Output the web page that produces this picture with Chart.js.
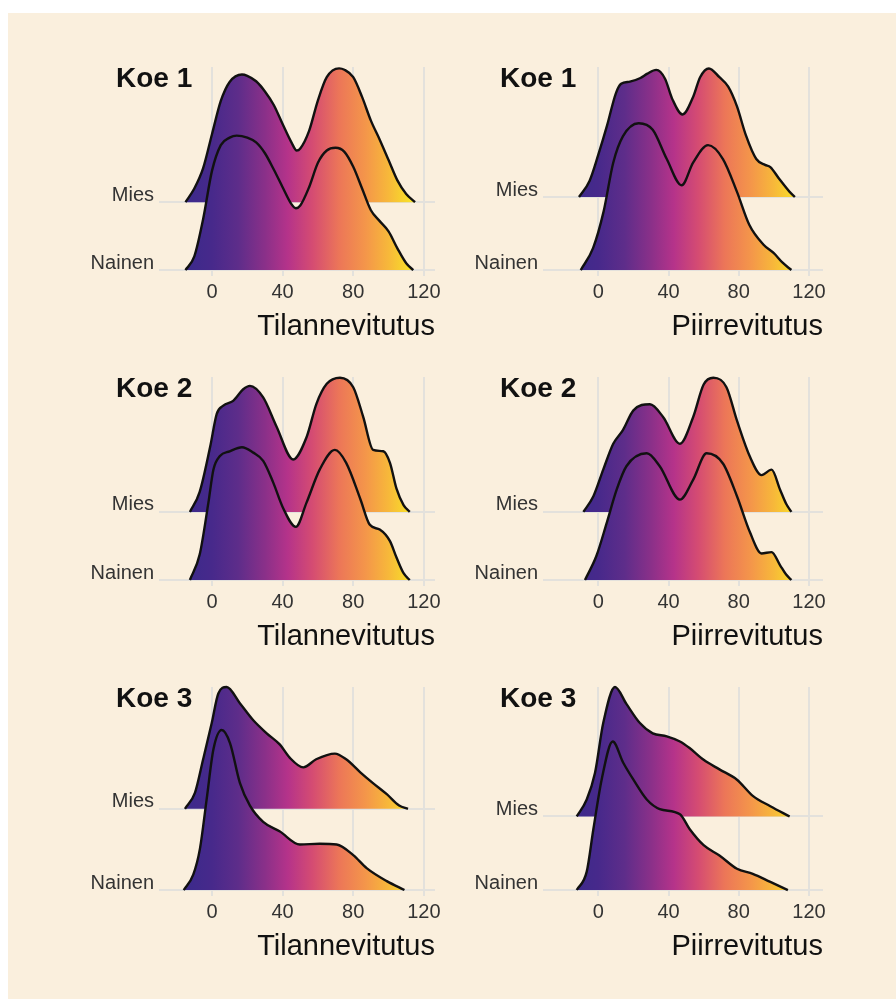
<!DOCTYPE html>
<html>
<head>
<meta charset="utf-8">
<script src="https://cdn.jsdelivr.net/npm/chart.js@4"></script>
<style>
html,body{margin:0;padding:0;background:#ffffff;width:896px;height:999px;overflow:hidden;}
#bg{position:absolute;left:8px;top:13px;width:888px;height:986px;background:#FAEFDD;}
canvas{position:absolute;}
</style>
</head>
<body>
<div id="bg"></div>
<script>
// ---------- data ----------
const panelTitles = ['Koe 1', 'Koe 1', 'Koe 2', 'Koe 2', 'Koe 3', 'Koe 3'];
const axisTitles = ['Tilannevitutus', 'Piirrevitutus'];
const groupLabels = ['Nainen', 'Mies'];
const xTicks = [0, 40, 80, 120];

// density curves: [x, height] (height in units of row spacing)
const koe1TilMies = [[-15,0],[-10,0.2],[-5,0.5],[0,1.0],[5,1.49],[10,1.77],[17,1.88],[20,1.86],[25,1.78],[30,1.63],[35,1.43],[40,1.15],[45,0.88],[48,0.76],[50,0.79],[55,1.05],[60,1.5],[65,1.84],[72,1.97],[75,1.95],[80,1.84],[85,1.55],[90,1.2],[95,0.92],[100,0.62],[105,0.32],[110,0.12],[115,0]];
const koe1TilNainen = [[-15,0],[-10,0.2],[-5,0.75],[0,1.46],[5,1.84],[10,1.95],[14,1.98],[20,1.95],[25,1.88],[30,1.72],[35,1.48],[40,1.22],[45,0.97],[47.5,0.91],[50,0.95],[55,1.22],[60,1.58],[65,1.76],[70,1.80],[75,1.74],[80,1.52],[85,1.2],[90,0.88],[95,0.72],[100,0.57],[105,0.32],[110,0.1],[114,0]];
const koe1PiiMies = [[-11,0],[-5,0.22],[0,0.58],[5,0.98],[10,1.42],[13,1.55],[18,1.58],[24,1.63],[28,1.69],[33,1.74],[38,1.62],[42,1.35],[48,1.13],[54,1.37],[58,1.64],[63,1.76],[69,1.64],[74,1.51],[79,1.24],[84,0.85],[90,0.52],[95,0.44],[98,0.41],[103,0.25],[109,0.07],[112,0]];
const koe1PiiNainen = [[-10,0],[-3,0.3],[3,0.8],[8.5,1.47],[14,1.83],[23,2.01],[31,1.92],[39,1.52],[47.5,1.16],[54,1.47],[62.5,1.71],[71,1.52],[79,1.07],[86,0.62],[94,0.35],[100,0.23],[105,0.1],[110,0]];
const koe2TilMies = [[-12.5,0],[-7,0.29],[-1,0.96],[2.7,1.44],[6.4,1.56],[12,1.63],[17.7,1.80],[21.5,1.85],[29,1.68],[36.6,1.25],[46,0.77],[53.6,1.1],[59.2,1.59],[65,1.88],[72.5,1.97],[80,1.83],[85.6,1.40],[91.3,0.91],[97,0.89],[100.8,0.72],[104.5,0.34],[108.5,0.1],[112,0]];
const koe2TilNainen = [[-12.5,0],[-7,0.37],[-2,1.14],[0.8,1.62],[4.5,1.82],[10,1.89],[17,1.95],[23.4,1.87],[29,1.75],[34.7,1.43],[40.4,1.05],[47.5,0.78],[53.6,1.14],[61,1.62],[69.6,1.91],[76,1.72],[84,1.19],[89.4,0.81],[95,0.74],[100.8,0.57],[104.5,0.33],[108.5,0.1],[112,0]];
const koe2PiiMies = [[-8.5,0],[-2.8,0.23],[2.8,0.62],[8.5,1.0],[14,1.2],[20,1.49],[29.4,1.58],[37,1.39],[46.5,1.0],[54,1.39],[60,1.87],[65.5,1.97],[73,1.83],[79,1.34],[86.4,0.81],[93,0.54],[98.7,0.62],[103.5,0.33],[107,0.12],[110,0]];
const koe2PiiNainen = [[-7.6,0],[-1,0.36],[4.8,0.84],[10.5,1.33],[16,1.67],[27.6,1.86],[35,1.67],[46.5,1.18],[54,1.47],[61.7,1.86],[71,1.71],[79,1.23],[86.4,0.7],[93,0.39],[98.7,0.41],[103.5,0.22],[107,0.08],[110,0]];
const koe3TilMies = [[-15.3,0],[-9.6,0.2],[-5,0.61],[-0.2,1.05],[3.6,1.42],[8.3,1.5],[15.8,1.30],[23.4,1.09],[31,0.93],[38.5,0.79],[44,0.63],[51.7,0.51],[59,0.61],[69.6,0.68],[76,0.61],[84,0.45],[91,0.32],[99,0.18],[106,0.04],[111,0]];
const koe3TilNainen = [[-16,0],[-10.6,0.19],[-6.8,0.51],[-3,1.12],[0.8,1.73],[5.5,1.97],[10.2,1.81],[15.8,1.32],[21.5,1.04],[29,0.84],[38.5,0.72],[49.8,0.56],[61,0.57],[70.6,0.56],[80,0.43],[87.6,0.27],[99,0.11],[109,0]];
const koe3PiiMies = [[-12.3,0],[-6.6,0.23],[-1.9,0.59],[2.8,1.27],[9.5,1.76],[16,1.53],[23.7,1.27],[31,1.13],[39,1.09],[46.5,1.02],[52,0.93],[60,0.77],[69,0.64],[79,0.5],[88,0.28],[98,0.14],[109,0]];
const koe3PiiNainen = [[-12.3,0],[-6.6,0.25],[-2.8,0.83],[1.9,1.5],[8.2,2.02],[14.2,1.73],[20,1.5],[27.6,1.23],[35,1.10],[46.5,1.03],[52,0.83],[60,0.61],[69,0.47],[79,0.29],[88,0.22],[98,0.11],[108,0]];

const miesCurves = [koe1TilMies, koe1PiiMies, koe2TilMies, koe2PiiMies, koe3TilMies, koe3PiiMies];
const nainenCurves = [koe1TilNainen, koe1PiiNainen, koe2TilNainen, koe2PiiNainen, koe3TilNainen, koe3PiiNainen];
const yMaxes = [2.99, 2.78, 2.98, 2.98, 2.50, 2.76];
const xRanges = [[-28.3, 126.3], [-29.8, 128]];

// fill colour scale (by x value)
const gradStops = [[-15,'#3B2A8B'],[0,'#47298B'],[15,'#5E2D8A'],[30,'#8A3089'],[43,'#B5338A'],[57,'#D54C72'],[72,'#EC7658'],[87,'#F4964A'],[100,'#F7B83A'],[108,'#F8D22E'],[115,'#F8E82A']];

// ---------- drawing ----------
const FONT = '"Liberation Sans", Arial, Helvetica, sans-serif';
const gridColor = '#E3E1DC';

function fillFor(context) {
  const chart = context.chart;
  if (!chart.chartArea) return 'rgba(0,0,0,0)';
  const xs = chart.scales.x;
  const v0 = gradStops[0][0], v1 = gradStops[gradStops.length - 1][0];
  const g = chart.ctx.createLinearGradient(xs.getPixelForValue(v0), 0, xs.getPixelForValue(v1), 0);
  gradStops.forEach(([v, c]) => g.addColorStop((v - v0) / (v1 - v0), c));
  return g;
}

const panelLabel = {
  id: 'panelLabel',
  afterDraw(chart, args, opts) {
    const { ctx, chartArea } = chart;
    ctx.save();
    ctx.font = 'bold 28px ' + FONT;
    ctx.fillStyle = '#111';
    ctx.textAlign = 'left';
    ctx.textBaseline = 'alphabetic';
    ctx.fillText(opts.text, chartArea.left - 46, chartArea.top + 20);
    ctx.restore();
  }
};

Chart.register(panelLabel);

for (let i = 0; i < 6; i++) {
  const col = i % 2, row = Math.floor(i / 2);
  const cv = document.createElement('canvas');
  cv.width = 370; cv.height = 300;
  cv.style.left = (col === 0 ? 80 : 464) + 'px';
  cv.style.top = (50 + row * 310) + 'px';
  document.body.appendChild(cv);

  const yMax = yMaxes[i];
  const yMin = -yMax * 2 / 207;
  const curveStyle = {
    backgroundColor: fillFor,
    borderColor: '#111',
    borderWidth: 2.4,
    pointRadius: 0,
    cubicInterpolationMode: 'monotone',
    clip: 10
  };

  new Chart(cv, {
    type: 'line',
    data: {
      datasets: [
        Object.assign({ label: groupLabels[0], data: nainenCurves[i].map(([x, h]) => ({ x: x, y: h })), fill: { value: 0 } }, curveStyle),
        Object.assign({ label: groupLabels[1], data: miesCurves[i].map(([x, h]) => ({ x: x, y: 1 + h })), fill: { value: 1 } }, curveStyle)
      ]
    },
    options: {
      responsive: false,
      animation: false,
      devicePixelRatio: 1,
      layout: { padding: { top: 13, bottom: 6, left: 0, right: col === 0 ? 15 : 11 } },
      plugins: {
        legend: { display: false },
        tooltip: { enabled: false },
        panelLabel: { text: panelTitles[i] }
      },
      scales: {
        x: {
          type: 'linear',
          min: xRanges[col][0],
          max: xRanges[col][1],
          afterBuildTicks: s => { s.ticks = xTicks.map(v => ({ value: v })); },
          afterFit: s => { s.height = 72; },
          grid: { color: gridColor, lineWidth: 2, tickLength: 4, drawTicks: true },
          border: { display: false },
          ticks: { font: { family: FONT, size: 20 }, color: '#333', padding: 4, autoSkip: false, maxRotation: 0 },
          title: { display: true, text: axisTitles[col], align: 'end', font: { family: FONT, size: 29 }, color: '#111', padding: 0 }
        },
        y: {
          type: 'linear',
          min: yMin,
          max: yMax,
          afterBuildTicks: s => { s.ticks = [{ value: 0 }, { value: 1 }]; },
          afterFit: s => { s.width = 82; },
          grid: { color: gridColor, lineWidth: 2, tickLength: 3, drawTicks: true },
          border: { display: false },
          ticks: { callback: v => groupLabels[v], font: { family: FONT, size: 20 }, color: '#333', padding: 5, autoSkip: false, labelOffset: -7 }
        }
      }
    }
  });
}
</script>
</body>
</html>
